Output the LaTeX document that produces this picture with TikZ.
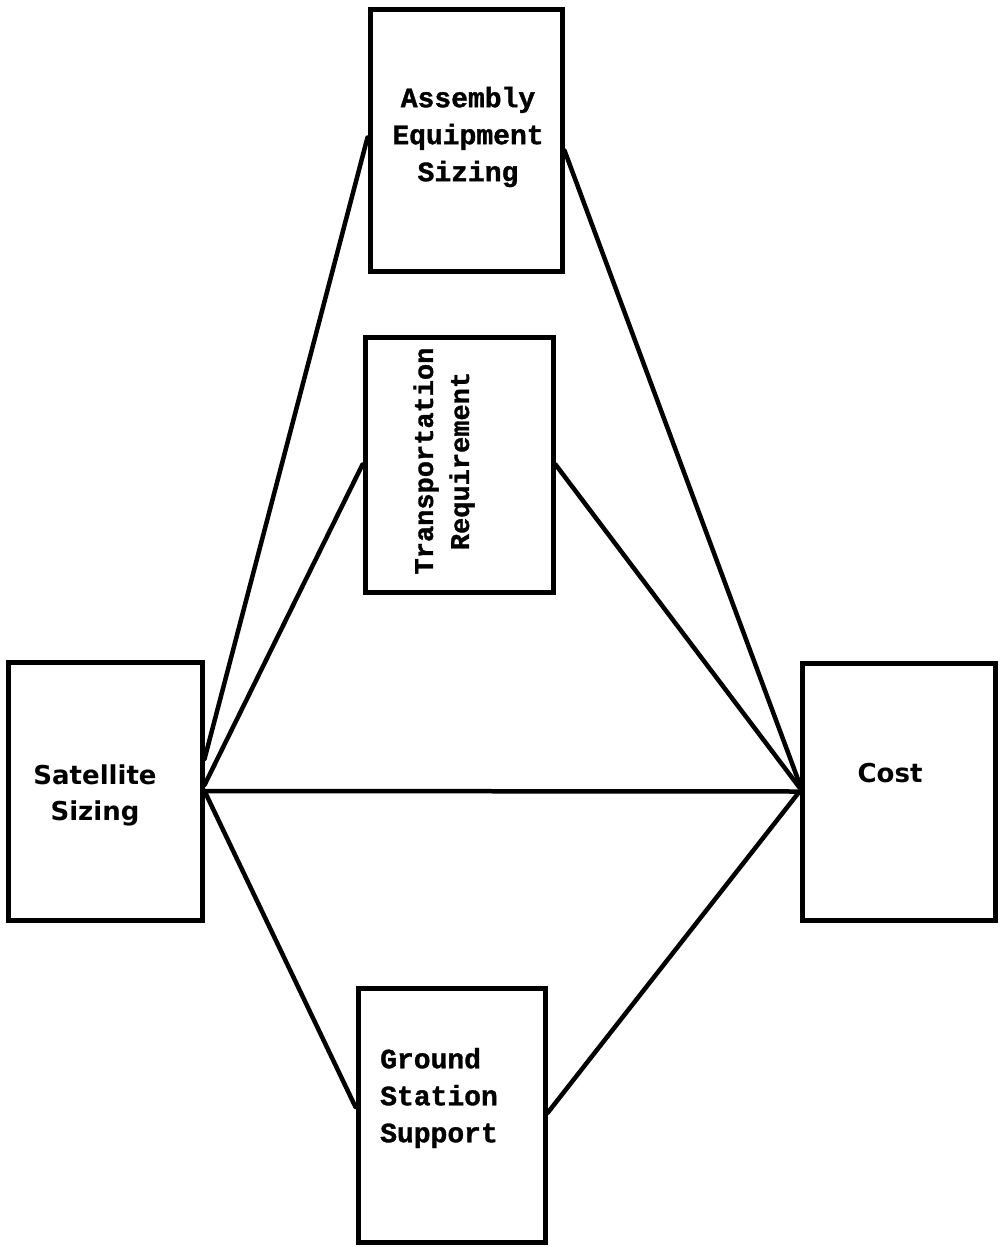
\documentclass[tikz,border=0pt]{standalone}
\usepackage{fontspec}
\newfontfamily\slabfont[BoldFeatures={FakeBold=1.2}]{Liberation Mono}
\newfontfamily\boxsans{DejaVu Sans}
\begin{document}
\begin{tikzpicture}[x=1pt,y=-1pt,
  boxshape/.style={draw=black, line width=5pt, rectangle, inner sep=0pt},
  slablabel/.style={font=\slabfont\bfseries\fontsize{28}{37}\selectfont, align=center, inner sep=0pt},
  sanslabel/.style={font=\boxsans\bfseries\fontsize{26}{36}\selectfont, align=center, inner sep=0pt},
  link/.style={draw=black, line width=4.5pt, line cap=round}]
\useasboundingbox (0,0) rectangle (999,1249);
\fill[white] (0,0) rectangle (999,1249);
% boxes
\node[boxshape, minimum width=192pt, minimum height=261pt] (asm) at (466,140.5) {};
\node[boxshape, minimum width=188pt, minimum height=255pt] (trn) at (459,464.5) {};
\node[boxshape, minimum width=194pt, minimum height=258pt] (sat) at (105,791) {};
\node[boxshape, minimum width=193pt, minimum height=257pt] (cost) at (898.5,791.5) {};
\node[boxshape, minimum width=187pt, minimum height=254pt] (gnd) at (451.5,1115) {};
% labels
\node[slablabel] (asmtxt) at (468,137) {Assembly\\Equipment\\Sizing};
\node[slablabel, font=\slabfont\bfseries\fontsize{27}{36}\selectfont, rotate=90] (trntxt) at (444,461) {Transportation\\Requirement};
\node[sanslabel] (sattxt) at (95,795) {Satellite\\Sizing};
\node[sanslabel] (costtxt) at (890,773) {Cost};
\node[slablabel, align=left, anchor=west] (gndtxt) at (380,1098) {Ground\\Station\\Support};
% connectors
\draw[link] ([yshift=32pt]sat.east) -- ([yshift=3pt]asm.west);
\draw[link] ([yshift=6pt]sat.east) -- (trn.west);
\draw[link] (sat.east) -- (cost.west);
\draw[link] (sat.east) -- ([yshift=8pt]gnd.west);
\draw[link] ([yshift=-10pt]asm.east) -- ([yshift=8pt]cost.west);
\draw[link] (trn.east) -- ([yshift=4pt]cost.west);
\draw[link] ([yshift=2pt]gnd.east) -- (cost.west);
\end{tikzpicture}
\end{document}
